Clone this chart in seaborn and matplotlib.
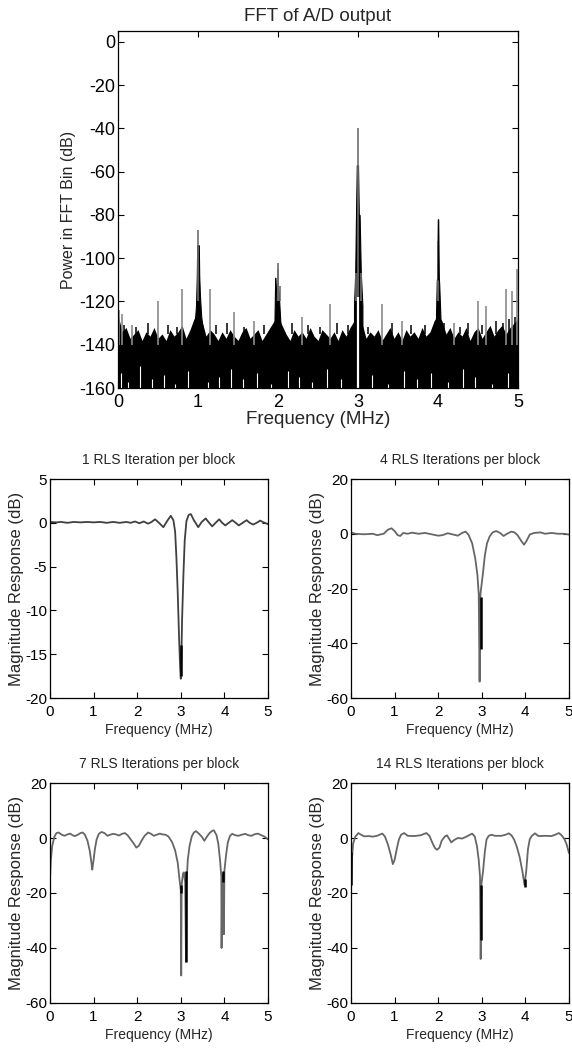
import numpy as np
import pandas as pd
import seaborn as sns
import matplotlib
matplotlib.use('Agg')
import matplotlib.pyplot as plt

# ---------------- FFT of A/D output ----------------
fft_freq = [0.00, 0.05, 0.10, 0.15, 0.20, 0.25, 0.30, 0.35, 0.40, 0.45,
            0.50, 0.55, 0.60, 0.65, 0.70, 0.75, 0.80, 0.85, 0.90, 0.95,
            1.00, 1.05, 1.10, 1.15, 1.20, 1.25, 1.30, 1.35, 1.40, 1.45,
            1.50, 1.55, 1.60, 1.65, 1.70, 1.75, 1.80, 1.85, 1.90, 1.95,
            2.00, 2.05, 2.10, 2.15, 2.20, 2.25, 2.30, 2.35, 2.40, 2.45,
            2.50, 2.55, 2.60, 2.65, 2.70, 2.75, 2.80, 2.85, 2.90, 2.95,
            3.00, 3.05, 3.10, 3.15, 3.20, 3.25, 3.30, 3.35, 3.40, 3.45,
            3.50, 3.55, 3.60, 3.65, 3.70, 3.75, 3.80, 3.85, 3.90, 3.95,
            4.00, 4.05, 4.10, 4.15, 4.20, 4.25, 4.30, 4.35, 4.40, 4.45,
            4.50, 4.55, 4.60, 4.65, 4.70, 4.75, 4.80, 4.85, 4.90, 4.95, 5.00]
fft_noise = [-126, -134, -132, -137, -135, -133, -138, -134, -136, -132,
             -137, -135, -138, -133, -136, -134, -131, -137, -133, -128,
             -126, -129, -136, -133, -135, -138, -134, -137, -133, -136,
             -138, -134, -132, -137, -135, -133, -138, -135, -132, -129,
             -127, -131, -135, -138, -133, -136, -134, -137, -132, -136,
             -138, -133, -135, -137, -134, -138, -133, -136, -132, -129,
             -127, -130, -137, -134, -136, -133, -138, -135, -132, -137,
             -134, -138, -133, -136, -134, -137, -132, -136, -134, -129,
             -126, -129, -135, -132, -137, -134, -136, -132, -138, -134,
             -132, -137, -134, -131, -136, -133, -131, -135, -132, -130, -128]

# tall grey bins sticking out of the noise floor
spike_freq = [0.01, 0.05, 0.18, 0.50, 0.80, 1.15, 1.45, 1.70, 2.30, 2.65,
              3.30, 3.55, 4.20, 4.50, 4.60, 4.85, 4.92, 4.985]
spike_db = [-124, -126, -131, -120, -114, -114, -125, -129, -127, -121,
            -121, -129, -130, -120, -122, -114, -115, -105]

# short black bins on top of the floor
bin_freq = [0.08, 0.22, 0.37, 0.63, 0.74, 1.22, 1.36, 1.58, 1.83, 2.18,
            2.37, 2.52, 2.74, 2.88, 3.13, 3.42, 3.66, 3.84, 4.08, 4.27,
            4.38, 4.55, 4.73, 4.81, 4.89, 4.96]
bin_db = [-131, -132, -130, -131, -132, -131, -130, -132, -131, -130,
          -131, -132, -130, -131, -132, -130, -131, -131, -130, -132,
          -130, -131, -129, -130, -128, -127]

# white gaps at the bottom of the noise trace
gap_freq = [0.04, 0.13, 0.28, 0.42, 0.58, 0.71, 0.88, 1.12, 1.26, 1.41,
            1.56, 1.74, 1.91, 2.12, 2.26, 2.43, 2.61, 2.79, 3.18, 3.37,
            3.58, 3.74, 3.91, 4.12, 4.31, 4.46, 4.68, 4.88]
gap_db = [-153, -157, -150, -156, -154, -158, -152, -157, -155, -151,
          -156, -153, -158, -152, -155, -157, -151, -156, -154, -158,
          -152, -156, -153, -157, -151, -155, -158, -153]

# tones (black core + grey tips)
tone1_freq = [0.955, 0.975, 0.985, 0.99, 1.01, 1.015, 1.025, 1.04, 1.06]
tone1_db = [-132, -122, -108, -94, -94, -108, -118, -127, -133]
tone2_freq = [1.955, 1.965, 1.975, 1.985, 1.995, 2.005, 2.015, 2.03]
tone2_db = [-131, -109, -115, -125, -112, -115, -120, -130]
tone3_freq = [2.95, 2.965, 2.975, 2.985, 3.0, 3.01, 3.02, 3.035, 3.055]
tone3_db = [-122, -107, -80, -57, -57, -80, -80, -107, -122]
tone4_freq = [3.975, 3.985, 3.99, 4.0, 4.01, 4.015, 4.03]
tone4_db = [-126, -110, -109, -82, -109, -112, -127]
tip_freq = [0.998, 1.995, 2.005, 2.025, 2.995, 3.995, 2.97, 3.035]
tip_db = [-87, -105, -102, -113, -40, -92, -107, -107]

# ---------------- adaptive filter magnitude responses ----------------
rls1_freq = [0.0, 0.15, 0.25, 0.4, 0.55, 0.7, 0.85, 1.0, 1.15, 1.3, 1.45, 1.6,
             1.75, 1.85, 1.95, 2.05, 2.15, 2.25, 2.33, 2.41, 2.5, 2.6, 2.7,
             2.77, 2.83, 2.87, 2.9, 2.93, 2.96, 2.985, 3.0, 3.015, 3.03, 3.06,
             3.09, 3.13, 3.18, 3.23, 3.3, 3.4, 3.48, 3.57, 3.65, 3.72, 3.8,
             3.88, 3.95, 4.02, 4.1, 4.18, 4.26, 4.33, 4.42, 4.51, 4.58, 4.66,
             4.74, 4.82, 4.9, 5.0]
rls1_db = [0.1, 0.05, 0.1, 0.0, 0.1, 0.05, 0.1, 0.05, 0.1, 0.0, 0.1, 0.0,
           0.1, 0.0, 0.15, -0.05, 0.15, -0.1, 0.1, 0.4, 0.0, -0.5, 0.3,
           0.8, 0.3, -1.0, -4.0, -8.0, -13.0, -16.5, -17.8, -15.0, -11.0, -6.0,
           -2.0, 0.2, 0.9, 1.0, 0.3, -0.5, 0.1, 0.5, 0.0, -0.4, 0.0,
           0.4, 0.0, -0.3, 0.0, 0.3, 0.0, -0.3, 0.0, 0.3, 0.0, -0.2,
           0.0, 0.25, 0.05, -0.15]

rls4_freq = [0.0, 0.1, 0.3, 0.5, 0.6, 0.75, 0.85, 0.93, 1.0, 1.07, 1.13, 1.2,
             1.3, 1.4, 1.55, 1.7, 1.85, 2.0, 2.1, 2.22, 2.35, 2.45, 2.55, 2.63,
             2.7, 2.78, 2.85, 2.9, 2.93, 2.95, 2.97, 3.0, 3.03, 3.07, 3.12,
             3.18, 3.25, 3.33, 3.42, 3.5, 3.58, 3.68, 3.75, 3.82, 3.9, 3.97,
             4.03, 4.1, 4.2, 4.35, 4.45, 4.6, 4.75, 4.9, 5.0]
rls4_db = [0.5, 0.0, -0.2, 0.0, -0.5, 0.0, 1.5, 2.0, 1.0, -0.5, -0.8, 0.3,
           0.0, 0.4, 0.0, 0.3, -0.2, -0.7, -0.5, 0.2, -0.3, -0.7, 0.3, 0.8,
           -0.5, -3.5, -9.0, -15.0, -22.0, -54.0, -22.0, -18.0, -14.0, -8.0, -3.5,
           -1.0, 0.5, 1.0, 0.3, -0.8, 0.0, 0.8, 0.5, -0.5, -2.5, -4.0,
           -2.5, -0.3, 0.3, 0.5, 0.0, 0.3, 0.0, 0.0, -0.3]

rls7_freq = [0.0, 0.02, 0.05, 0.1, 0.15, 0.2, 0.27, 0.33, 0.4, 0.46, 0.52, 0.57,
             0.64, 0.7, 0.75, 0.8, 0.86, 0.91, 0.95, 0.97, 1.0, 1.03, 1.07,
             1.12, 1.18, 1.25, 1.32, 1.38, 1.45, 1.52, 1.58, 1.65, 1.72, 1.78,
             1.85, 1.92, 1.98, 2.04, 2.1, 2.17, 2.25, 2.32, 2.38, 2.45, 2.52,
             2.58, 2.65, 2.72, 2.8, 2.87, 2.93, 2.97, 3.0, 3.01, 3.02, 3.05,
             3.07, 3.1, 3.12, 3.13, 3.16, 3.2, 3.25, 3.3, 3.35, 3.42, 3.48,
             3.54, 3.6, 3.66, 3.72, 3.76, 3.82, 3.86, 3.9, 3.93, 3.935, 3.95,
             3.98, 3.99, 4.0, 4.04, 4.08, 4.13, 4.18, 4.25, 4.32, 4.4, 4.48,
             4.55, 4.62, 4.7, 4.77, 4.85, 4.92, 5.0]
rls7_db = [-15.0, -8.0, -3.0, 0.5, 1.8, 2.0, 1.2, 0.8, 1.3, 1.6, 1.0, 0.7,
           1.2, 1.8, 2.0, 1.2, -1.0, -4.5, -9.0, -11.5, -8.0, -4.0, -0.5,
           1.5, 2.2, 1.8, 0.8, 1.2, 1.5, 1.3, 0.9, 1.5, 1.8, 1.0,
           -0.5, -2.0, -3.5, -2.8, -1.0, 0.8, 2.0, 1.5, 0.8, 1.2, 1.6,
           1.3, 1.2, 0.5, -1.5, -4.5, -9.0, -15.0, -19.0, -50.0, -17.0, -13.0,
           -12.5, -16.0, -45.0, -17.0, -8.0, -3.0, 0.5, 2.0, 2.5, 1.5, 0.5,
           -1.0, 0.5, 1.8, 2.6, 2.8, 1.0, -2.0, -8.0, -14.0, -40.0, -14.0,
           -13.0, -35.0, -12.0, -6.0, -1.5, 0.8, 1.5, 1.0, 0.8, 1.2, 1.5,
           1.0, 0.8, 1.4, 1.6, 1.0, 0.5, -0.5]

rls14_freq = [0.0, 0.02, 0.05, 0.1, 0.17, 0.23, 0.3, 0.4, 0.5, 0.6, 0.67, 0.72,
              0.78, 0.85, 0.91, 0.96, 1.0, 1.05, 1.1, 1.15, 1.22, 1.3, 1.45,
              1.6, 1.68, 1.73, 1.8, 1.86, 1.92, 1.97, 2.03, 2.08, 2.15, 2.2,
              2.26, 2.3, 2.36, 2.45, 2.55, 2.65, 2.73, 2.78, 2.84, 2.89, 2.93,
              2.96, 2.975, 2.99, 3.03, 3.07, 3.11, 3.16, 3.22, 3.3, 3.45, 3.55,
              3.62, 3.68, 3.74, 3.8, 3.87, 3.93, 3.98, 4.02, 4.06, 4.1, 4.15,
              4.22, 4.3, 4.45, 4.6, 4.7, 4.77, 4.83, 4.9, 4.95, 5.0]
rls14_db = [-17.0, -8.0, -2.0, 0.5, 1.8, 1.2, 0.6, 0.7, 0.5, 0.8, 1.3, 1.6,
            0.5, -2.5, -6.0, -9.5, -8.0, -4.0, -0.5, 1.2, 1.8, 0.8, 0.7,
            1.0, 1.5, 1.8, 0.8, -1.5, -3.5, -4.3, -3.5, -1.0, 0.5, 1.0,
            -0.5, -1.6, -0.8, 0.0, -0.2, 0.5, 1.2, 1.6, 0.5, -3.0, -8.0,
            -14.0, -44.0, -17.0, -12.0, -5.0, -0.5, 0.8, 1.2, 0.8, 0.8, 1.2,
            1.7, 1.0, -0.5, -3.0, -7.0, -12.0, -17.0, -12.0, -4.0, -0.5, 0.8,
            1.7, 0.7, 0.8, 0.7, 1.3, 1.8, 1.0, -0.5, -2.5, -5.5]

# black trace segments showing through inside the notches: (freq, top, bottom)
rls1_black = [(3.0, -14.0, -17.5)]
rls4_black = [(2.99, -23.0, -42.0)]
rls7_black = [(3.0, -17.0, -20.0), (3.12, -12.0, -45.0), (3.97, -12.0, -16.0)]
rls14_black = [(0.0, -5.0, -17.0), (2.985, -17.0, -37.0), (3.985, -15.0, -18.0)]

titles = ['1 RLS Iteration per block', '4 RLS Iterations per block',
          '7 RLS Iterations per block', '14 RLS Iterations per block']
curve_colors = ['#404040', '#666666', '#666666', '#666666']

# ---------------------------------------------------------------------
sns.set_style('ticks')
plt.rcParams['font.family'] = ['Liberation Sans', 'DejaVu Sans']
plt.rcParams['axes.unicode_minus'] = False
plt.rcParams['xtick.direction'] = 'in'
plt.rcParams['ytick.direction'] = 'in'
plt.rcParams['axes.linewidth'] = 0.9
plt.rcParams['axes.edgecolor'] = 'black'

fig = plt.figure(figsize=(5.72, 10.53), dpi=100)

def style_axes(ax, tick_size):
    ax.tick_params(top=True, right=True, length=4, width=0.8, colors='black',
                   labelsize=tick_size, pad=2)

# top spectrum
ax = fig.add_axes([0.2063, 0.6315, 0.6993, 0.339])
ax.fill_between(fft_freq, -160, fft_noise, color='black', lw=0)
ax.vlines(bin_freq, -135, bin_db, color='black', lw=1.1)
ax.vlines(gap_freq, -160, gap_db, color='white', lw=0.8)
ax.vlines(spike_freq, -140, spike_db, color='#8a8a8a', lw=1.2)
for f, d in [(tone1_freq, tone1_db), (tone2_freq, tone2_db),
             (tone3_freq, tone3_db), (tone4_freq, tone4_db)]:
    ax.fill_between(f, -140, d, color='black', lw=0.8, edgecolor='black')
ax.vlines(tip_freq, -120, tip_db, color='#6e6e6e', lw=1.2)
ax.vlines([4.0], -110, [-82], color='black', lw=1.0)
ax.vlines([2.997], -160, [-118], color='white', lw=1.6)
ax.set_xlim(0, 5)
ax.set_ylim(-160, 5)
ax.set_xticks([0, 1, 2, 3, 4, 5])
ax.set_yticks(np.arange(-160, 1, 20))
style_axes(ax, 13)
ax.tick_params(axis='x', pad=4)
ax.set_title('FFT of A/D output', fontsize=13.5, pad=7)
ax.set_xlabel('Frequency (MHz)', fontsize=13.5, labelpad=0)
ax.set_ylabel('Power in FFT Bin (dB)', fontsize=11.5, labelpad=2)

# four response panels
panels = [
    ([0.0874, 0.3371, 0.3811, 0.2080], rls1_freq, rls1_db, rls1_black, (-20, 5), [-20, -15, -10, -5, 0, 5]),
    ([0.6136, 0.3371, 0.3811, 0.2080], rls4_freq, rls4_db, rls4_black, (-60, 20), [-60, -40, -20, 0, 20]),
    ([0.0874, 0.0475, 0.3811, 0.2089], rls7_freq, rls7_db, rls7_black, (-60, 20), [-60, -40, -20, 0, 20]),
    ([0.6136, 0.0475, 0.3811, 0.2089], rls14_freq, rls14_db, rls14_black, (-60, 20), [-60, -40, -20, 0, 20]),
]
for (rect, freq, db, blacks, ylim, yticks), title, col in zip(panels, titles, curve_colors):
    ax = fig.add_axes(rect)
    df = pd.DataFrame({'freq': freq, 'db': db})
    sns.lineplot(data=df, x='freq', y='db', ax=ax, estimator=None, sort=False,
                 color=col, linewidth=1.3)
    for f, top, bot in blacks:
        ax.vlines(f, bot, top, color='black', lw=1.8)
    ax.set_xlim(0, 5)
    ax.set_ylim(*ylim)
    ax.set_xticks([0, 1, 2, 3, 4, 5])
    ax.set_yticks(yticks)
    style_axes(ax, 11)
    ax.tick_params(axis='x', pad=5)
    ax.set_title(title, fontsize=10, pad=11)
    ax.set_xlabel('Frequency (MHz)', fontsize=10, labelpad=3)
    ax.set_ylabel('Magnitude Response (dB)', fontsize=12, labelpad=1)

fig.savefig('out.png', dpi=100)
